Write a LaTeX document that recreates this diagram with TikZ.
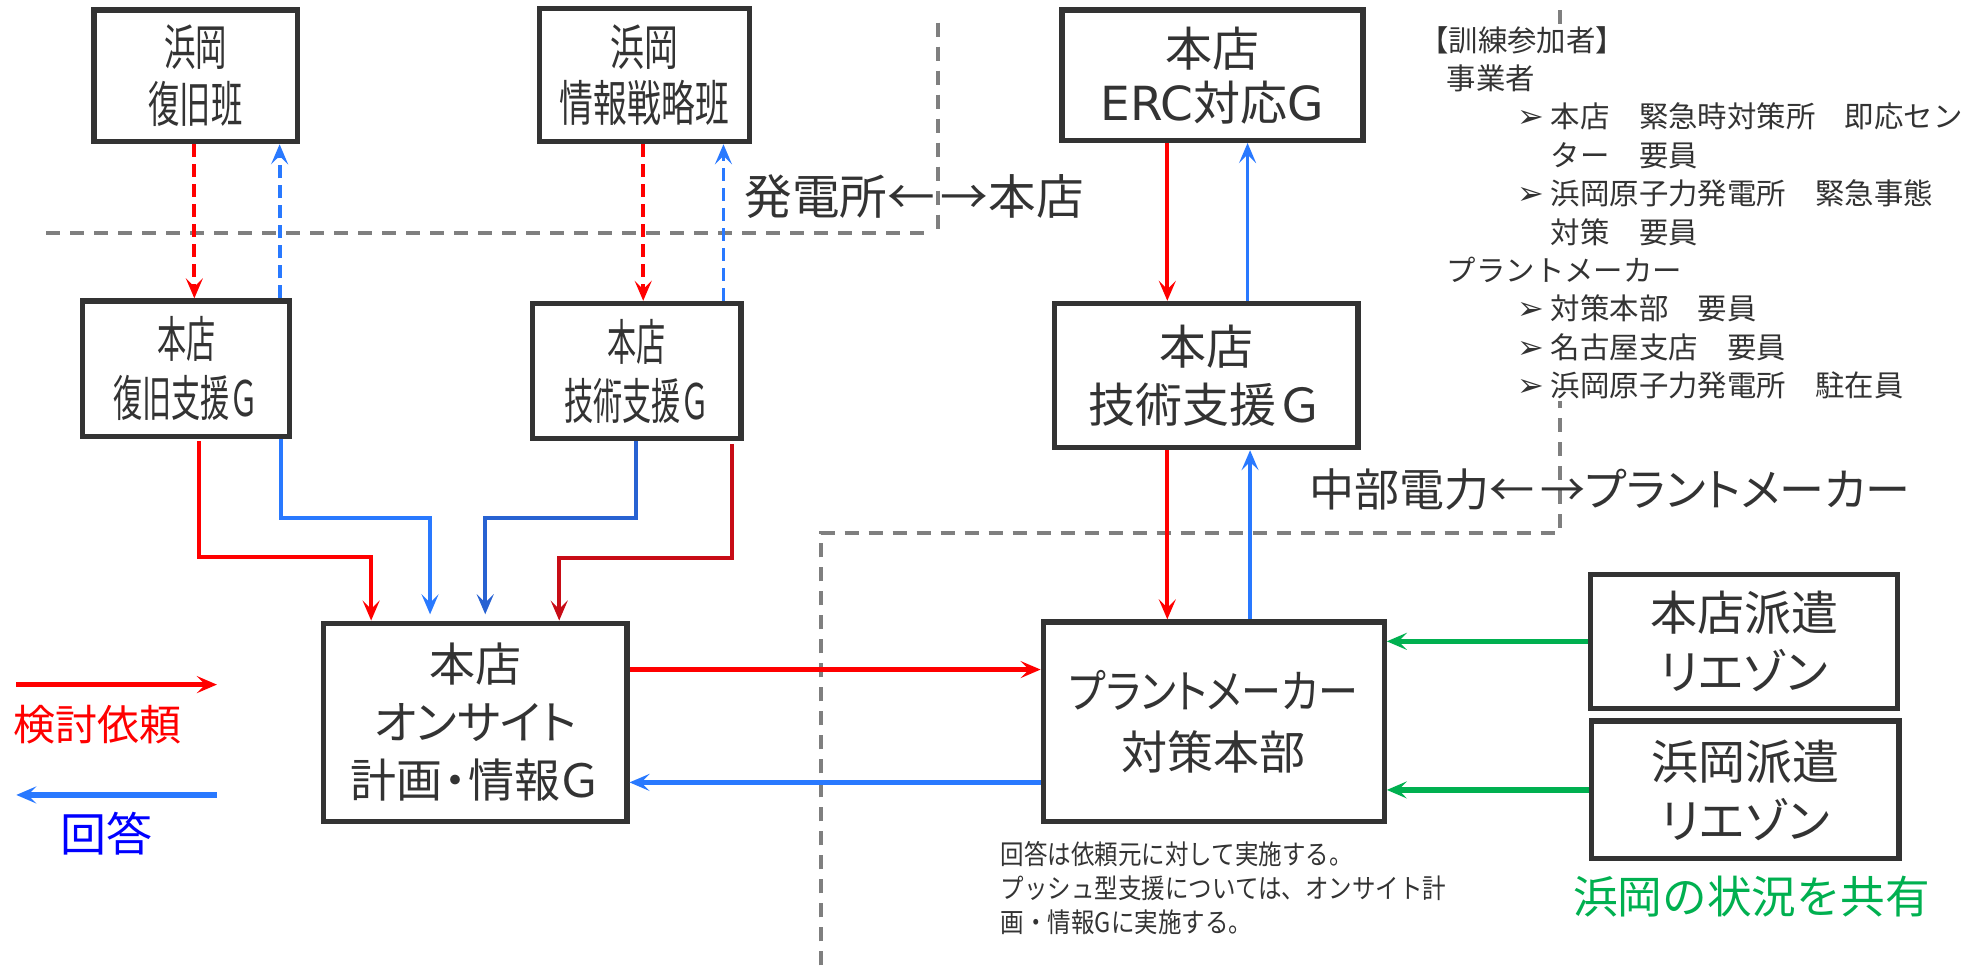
\documentclass[tikz,border=0pt]{standalone}
\usepackage{fontspec}
\usetikzlibrary{arrows.meta,calc}
\setmainfont{Noto Sans CJK JP}
\newfontfamily\jp{Noto Sans CJK JP}
\newfontfamily\jpa[FakeStretch=0.64]{Noto Sans CJK JP}
\newfontfamily\jpb[FakeStretch=0.69]{Noto Sans CJK JP}
\newfontfamily\jpn[FakeStretch=0.595]{Noto Sans CJK JP}
\newfontfamily\jpm[FakeStretch=0.87]{Noto Sans CJK JP}
\newfontfamily\jpp[RawFeature=+palt]{Noto Sans CJK JP}
\newfontfamily\jppn[FakeStretch=0.87,RawFeature=+palt]{Noto Sans CJK JP}
\newfontfamily\dv{DejaVu Sans}
\newdimen\PU \PU=0.6269pt
\definecolor{rq}{RGB}{255,0,0}
\definecolor{rqd}{RGB}{200,12,22}
\definecolor{an}{RGB}{41,121,255}
\definecolor{and}{RGB}{40,98,210}
\definecolor{gr}{RGB}{0,176,80}
\definecolor{bx}{RGB}{51,51,51}
\definecolor{ln}{RGB}{127,127,127}
\tikzset{
  box/.style 2 args={draw=bx, line width=2.6pt, minimum width=#1*0.6269pt,
    minimum height=#2*0.6269pt, inner sep=0pt, align=center, text=bx, fill=white},
  arr/.style={line width=1.9pt, -{Stealth[length=10pt,width=8.5pt,inset=4.2pt]}},
  dsh/.style={dash pattern=on 6.5pt off 3.5pt},
  sep/.style={draw=ln, line width=1.9pt, dash pattern=on 7pt off 5pt},
}
\newcommand\bulx{\makebox[27\PU][l]{\dv\fontsize{16}{16}\selectfont ➢}}
\begin{document}
\begin{tikzpicture}[x=0.6269pt,y=-0.6269pt]
\fill[white] (0,0) rectangle (1568,770);
\useasboundingbox (0,0) rectangle (1568,770);

% separators
\draw[sep] (37,186) -- (740,186);
\draw[sep] (748,18) -- (748,186);
\draw[sep] (655,770) -- (655,425) -- (1244,425) -- (1244,0);

% boxes
\node[box={162}{105}, font=\jpa\fontsize{24.5}{28.3}\selectfont] (A) at (156,60.5) {浜岡\\復旧班};
\node[box={168}{106}, font=\jpb\fontsize{24.5}{28.3}\selectfont] (B) at (514,60) {浜岡\\情報戦略班};
\node[box={240}{104}, font=\jp\fontsize{23.5}{27}\selectfont] (C) at (967,60) {本店\\{\dv ERC}対応{\dv G}};
\node[box={165}{108}, font=\jpn\fontsize{24.5}{29.5}\selectfont] (D) at (148.5,294) {本店\\復旧支援Ｇ};
\node[box={166}{108}, font=\jpn\fontsize{24.5}{29.5}\selectfont] (E) at (508,296) {本店\\技術支援Ｇ};
\node[box={242}{115}, font=\jp\fontsize{23.5}{29}\selectfont] (F) at (962,299.5) {本店\\技術支援Ｇ};
\node[box={242}{158}, font=\jpp\fontsize{23}{29}\selectfont] (G) at (379,576) {本店\\オンサイト\\計画\makebox[0.55em]{・}情報Ｇ};
\node[box={272}{159}, font=\jp\fontsize{23}{30.7}\selectfont] (H) at (968,575.5) {{\jppn プラントメーカー}\\対策本部};
\node[box={245}{107}, font=\jpp\fontsize{23.5}{29.5}\selectfont] (I) at (1391,511.5) {本店派遣\\リエゾン};
\node[box={245}{110}, font=\jpp\fontsize{23.5}{29.5}\selectfont] (J) at (1392,630) {浜岡派遣\\リエゾン};

% A <-> D
\path (A.south) ++(-1,0) coordinate (p1) (A.south) ++(67,0) coordinate (p2);
\draw[arr,rq,dsh] (p1) -- (p1 |- D.north);
\draw[arr,an,dsh] (p2 |- D.north) -- (p2);
% B <-> E
\path (B.south) ++(-1,0) coordinate (p3) (B.south) ++(63,0) coordinate (p4);
\draw[arr,rq,dsh] (p3) -- (p3 |- E.north);
\draw[arr,an,dsh] (p4 |- E.north) -- (p4);
% C <-> F
\path (C.south) ++(-36,0) coordinate (p5) (C.south) ++(28,0) coordinate (p6);
\draw[arr,rq] (p5) -- (p5 |- F.north);
\draw[arr,an] (p6 |- F.north) -- (p6);
% F <-> H
\path (F.south) ++(-31,0) coordinate (p7) (F.south) ++(35,0) coordinate (p8);
\draw[arr,rq] (p7) -- (p7 |- H.north);
\draw[arr,an] (p8 |- H.north) -- (p8);
% D -> G
\path (D.south) ++(10.5,2) coordinate (q1) (G.north) ++(-83,0) coordinate (q2);
\draw[arr,rq] (q1) -- ++(0,92) -| (q2);
\path (D.south) ++(75.5,0) coordinate (q3) (G.north) ++(-36,-5) coordinate (q4);
\draw[arr,an] (q3) -- ++(0,63) -| (q4);
% E -> G
\path (E.south) ++(-1,0) coordinate (q5) (G.north) ++(8,-5) coordinate (q6);
\draw[arr,and] (q5) -- ++(0,61) -| (q6);
\path (E.south) ++(76,2) coordinate (q7) (G.north) ++(67,0) coordinate (q8);
\draw[arr,rqd] (q7) -- ++(0,91) -| (q8);
% G <-> H
\path (G.east) ++(0,-42) coordinate (g1) (G.east) ++(0,48) coordinate (g2);
\draw[arr,rq,line width=2.4pt] (g1) -- (g1 -| H.west);
\draw[arr,an,line width=2.4pt] (g2 -| H.west) -- (g2);
% liaisons -> H
\draw[arr,gr,line width=2.8pt] (I.west) -- (I.west -| H.east);
\draw[arr,gr,line width=2.8pt] (J.west) -- (J.west -| H.east);

% legend
\coordinate (l1) at (13,546); \coordinate (l2) at (173,546);
\coordinate (l3) at (173,634); \coordinate (l4) at (13,634);
\draw[arr,rq,line width=2.6pt] (l1) -- (l2);
\draw[arr,an,line width=2.6pt] (l3) -- (l4);
\node[text=rq, font=\jp\fontsize{21}{21}\selectfont] (lt1) at (78,578) {検討依頼};
\node[text=blue, font=\jp\fontsize{23}{23}\selectfont] (lt2) at (85,665) {回答};

% area labels
\node[text=bx, font=\jp\fontsize{23.8}{24}\selectfont, inner sep=0pt] (s1) at (729,157) {発電所←\hspace{3pt}→本店};
\node[text=bx, font=\jpp\fontsize{22.5}{24}\selectfont, inner sep=0pt] (s2) at (1284,390) {中部電力←\hspace{3pt}→プラントメーカー};

% participants list
\node[anchor=north west, fill=white, inner sep=1pt, align=left, text=bx,
  font=\jp\fontsize{14.7}{19.2}\selectfont] (plist) at (1130,19) {%
【訓練参加者】\\
\hspace*{22\PU}事業者\\
\hspace*{78\PU}\bulx 本店　緊急時対策所　即応セン\\
\hspace*{105\PU}ター　要員\\
\hspace*{78\PU}\bulx 浜岡原子力発電所　緊急事態\\
\hspace*{105\PU}対策　要員\\
\hspace*{22\PU}プラントメーカー\\
\hspace*{78\PU}\bulx 対策本部　要員\\
\hspace*{78\PU}\bulx 名古屋支店　要員\\
\hspace*{78\PU}\bulx 浜岡原子力発電所　駐在員};

% note
\node[anchor=north west, inner sep=0pt, align=left, text=bx,
  font=\jpm\fontsize{13.5}{16.9}\selectfont] (note) at (798,671) {%
回答は依頼元に対して実施する。\\
プッシュ型支援については、オンサイト計\\
画・情報Gに実施する。};

% shared
\node[text=gr, font=\jp\fontsize{22.3}{23}\selectfont] (share) at (1397,715) {浜岡の状況を共有};
\end{tikzpicture}
\end{document}
